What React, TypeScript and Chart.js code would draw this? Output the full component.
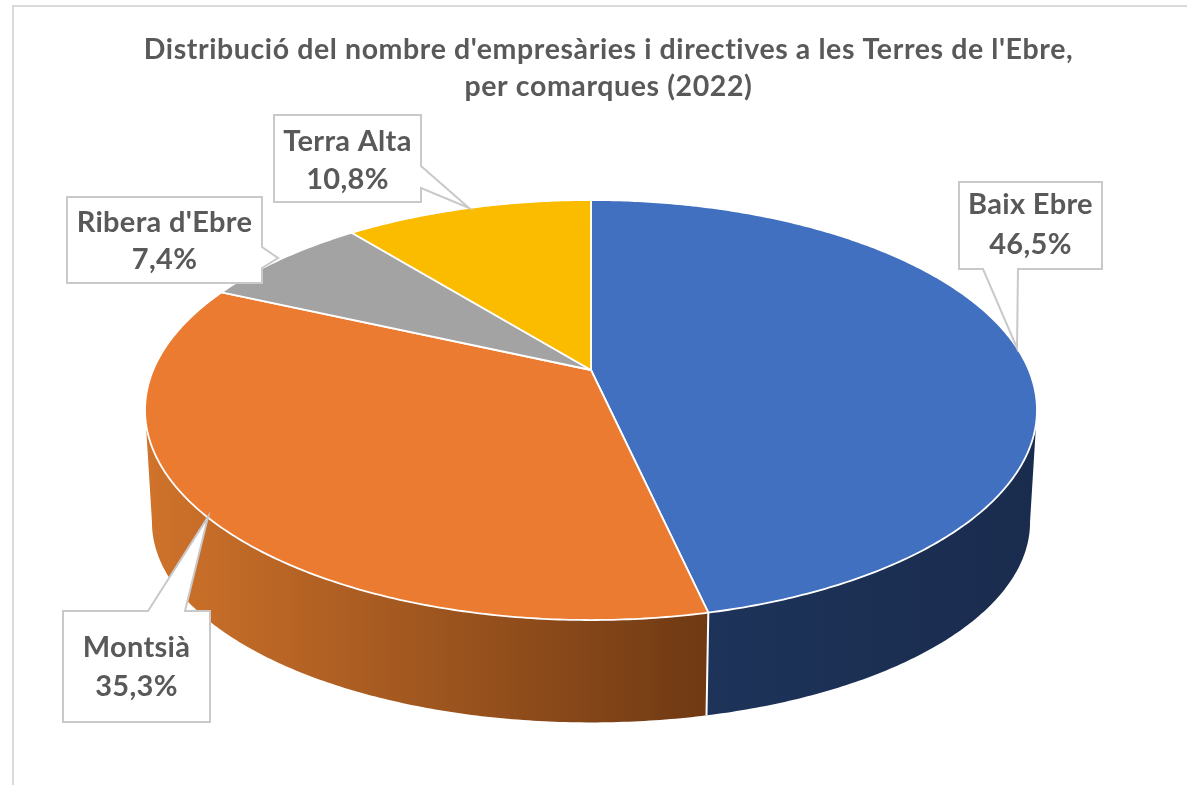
import React, { useEffect, useRef } from "react";
import { Chart, registerables } from "chart.js";

Chart.register(...registerables);

const titleLines = [
  "Distribució del nombre d'empresàries i directives a les Terres de l'Ebre,",
  "per comarques (2022)",
];
const categories = ["Baix Ebre", "Montsià", "Ribera d'Ebre", "Terra Alta"];
const shares = [46.5, 35.3, 7.4, 10.8];
const faceColors = ["#4270C0", "#EB7B30", "#A3A3A3", "#FBBC00"];
const wallStops = [
  ["#1D3359", "#1A2C4E"],
  ["#D0732B", "#6F3913"],
];
const textColor = "#595959";
const borderColor = "#C9C9C9";
const labelFont = "bold 29px Lato";

// Camera used to lay the flat pie down in perspective: maps a unit circle to the page.
const topPlane = { cx: 591, cy: 370, a: 437.8, b: 202.4, p: -0.1905 };
const bottomPlane = { cx: 591, cy: 484, a: 431, b: 193, p: -0.1905 };
// The wall shows only between the two side extremes of the rim.
const wallFrom = 0.19;
const wallTo = Math.PI - 0.19;

// Callout layout, in the same order as the categories.
const callouts = [
  {
    box: [959, 182, 1102, 269],
    outline: [[959, 182], [1102, 182], [1102, 269], [1018, 269], [1017, 348], [983, 269], [959, 269]],
    lines: [205, 245],
  },
  {
    box: [63, 611, 210, 722],
    outline: [[63, 611], [148, 611], [208, 517], [185, 611], [210, 611], [210, 722], [63, 722]],
    lines: [648, 687],
  },
  {
    box: [67, 197, 262, 283],
    outline: [[67, 197], [262, 197], [262, 247], [278, 258], [262, 268], [262, 283], [67, 283]],
    lines: [223, 260],
  },
  {
    box: [274, 115, 421, 202],
    outline: [[274, 115], [421, 115], [421, 166], [469, 208], [421, 188], [421, 202], [274, 202]],
    lines: [142, 180],
  },
];

type Plane = typeof topPlane;

function project(pl: Plane, angle: number) {
  const u = Math.cos(angle);
  const v = Math.sin(angle);
  const w = 1 + pl.p * v;
  return [pl.cx + (pl.a * u) / w, pl.cy + (pl.b * v) / w];
}

function rimPoints(pl: Plane, start: number, end: number) {
  const steps = Math.max(2, Math.ceil((end - start) / 0.01));
  const pts: number[][] = [];
  for (let i = 0; i <= steps; i++) {
    pts.push(project(pl, start + ((end - start) * i) / steps));
  }
  return pts;
}

function polygon(ctx: CanvasRenderingContext2D, pts: number[][]) {
  ctx.beginPath();
  pts.forEach((p, i) => (i === 0 ? ctx.moveTo(p[0], p[1]) : ctx.lineTo(p[0], p[1])));
  ctx.closePath();
}

const pie3d = {
  id: "pie3d",
  beforeDraw(chart: any) {
    const { ctx, width, height } = chart;
    ctx.save();
    ctx.strokeStyle = "#D9D9D9";
    ctx.lineWidth = 2;
    ctx.beginPath();
    ctx.moveTo(width, 6);
    ctx.lineTo(13, 6);
    ctx.lineTo(13, height);
    ctx.stroke();
    ctx.restore();
    (ctx as any).letterSpacing = "0.6px";
  },
  beforeDatasetDraw() {
    return false;
  },
  afterDatasetsDraw(chart: any) {
    const { ctx } = chart;
    const arcs = chart.getDatasetMeta(0).data;
    ctx.save();
    ctx.lineJoin = "round";

    // side walls of the slices that face the viewer
    arcs.forEach((arc: any, i: number) => {
      const start = Math.max(arc.startAngle, wallFrom);
      const end = Math.min(arc.endAngle, wallTo);
      if (end <= start) return;
      const top = rimPoints(topPlane, start, end);
      const bottom = rimPoints(bottomPlane, start, end);
      const xs = top.concat(bottom).map((p) => p[0]);
      const lo = Math.min(...xs);
      const hi = Math.max(...xs);
      const grad = i === 0 ? ctx.createLinearGradient(hi, 0, lo, 0) : ctx.createLinearGradient(lo, 0, hi, 0);
      grad.addColorStop(0, i === 0 ? wallStops[i][1] : wallStops[i][0]);
      grad.addColorStop(1, i === 0 ? wallStops[i][0] : wallStops[i][1]);
      polygon(ctx, top.concat(bottom.slice().reverse()));
      ctx.fillStyle = grad;
      ctx.fill();
    });

    // the seam between the two visible walls
    const seamAngle = arcs[0].endAngle;
    const seamTop = project(topPlane, seamAngle);
    const seamBottom = project(bottomPlane, seamAngle);
    ctx.strokeStyle = "#FFFFFF";
    ctx.lineWidth = 2;
    ctx.beginPath();
    ctx.moveTo(seamTop[0], seamTop[1]);
    ctx.lineTo(seamBottom[0], seamBottom[1]);
    ctx.stroke();

    // top faces
    arcs.forEach((arc: any, i: number) => {
      const pts = rimPoints(topPlane, arc.startAngle, arc.endAngle);
      polygon(ctx, [[topPlane.cx, topPlane.cy], ...pts]);
      ctx.fillStyle = faceColors[i];
      ctx.fill();
      ctx.strokeStyle = "#FFFFFF";
      ctx.lineWidth = 1.8;
      ctx.stroke();
    });

    // callouts
    (ctx as any).letterSpacing = "0.3px";
    callouts.forEach((c, i) => {
      const [x0, , x1] = c.box;
      polygon(ctx, c.outline);
      ctx.fillStyle = "#FFFFFF";
      ctx.strokeStyle = borderColor;
      ctx.lineWidth = 2;
      ctx.lineJoin = "miter";
      ctx.fill();
      ctx.stroke();
      ctx.fillStyle = textColor;
      ctx.font = labelFont;
      ctx.textAlign = "center";
      ctx.textBaseline = "middle";
      const mid = (x0 + x1) / 2;
      ctx.fillText(categories[i], mid, c.lines[0]);
      ctx.fillText(shares[i].toFixed(1).replace(".", ",") + "%", mid, c.lines[1]);
    });
    ctx.restore();
    (ctx as any).letterSpacing = "0px";
  },
};

export default function App() {
  const ref = useRef<HTMLCanvasElement>(null);
  useEffect(() => {
    const chart = new Chart(ref.current as HTMLCanvasElement, {
      type: "pie",
      data: {
        labels: categories,
        datasets: [{ data: shares, backgroundColor: faceColors }],
      },
      options: {
        responsive: false,
        animation: false,
        events: [],
        layout: { padding: { left: 30, right: 0 } },
        plugins: {
          legend: { display: false },
          tooltip: { enabled: false },
          title: {
            display: true,
            text: titleLines,
            color: textColor,
            font: { family: "Lato", weight: "bold", size: 28.5, lineHeight: 1.3 },
            padding: { top: 31, bottom: 10 },
          },
        },
      },
      plugins: [pie3d],
    } as any);
    return () => chart.destroy();
  }, []);
  return (
    <canvas
      ref={ref}
      width={1187}
      height={785}
      style={{ position: "fixed", left: 0, top: 0, display: "block" }}
    />
  );
}
